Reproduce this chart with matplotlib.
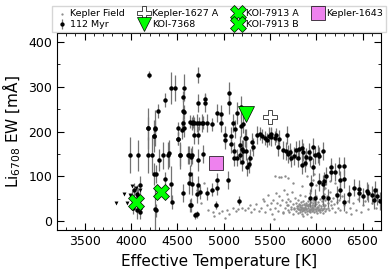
import matplotlib
matplotlib.use('Agg')
import matplotlib.pyplot as plt
from matplotlib.ticker import MultipleLocator

# Kepler field stars (gray dots)
field_teff = [4710, 4760, 4790, 4830, 4880, 4900, 4950, 4980, 5010, 5040, 5060, 5100, 5130, 5160,
              5200, 5230, 5260, 5280, 5300, 5330, 5350, 5380, 5400, 5420, 5440, 5450, 5470, 5480,
              5500, 5510, 5520, 5530, 5540, 5550, 5560, 5570, 5580, 5590, 5600, 5610, 5620, 5630,
              5640, 5650, 5660, 5670, 5680, 5690, 5700, 5700, 5710, 5720, 5730, 5740, 5750, 5750,
              5760, 5770, 5780, 5780, 5790, 5800, 5800, 5800, 5810, 5820, 5820, 5830, 5830, 5840,
              5840, 5850, 5850, 5850, 5860, 5860, 5870, 5870, 5880, 5880, 5880, 5890, 5890, 5900,
              5900, 5900, 5910, 5910, 5920, 5920, 5930, 5930, 5930, 5940, 5940, 5950, 5950, 5960,
              5960, 5970, 5970, 5980, 5980, 5990, 5990, 6000, 6000, 6000, 6010, 6020, 6020, 6030,
              6040, 6040, 6050, 6060, 6060, 6070, 6080, 6080, 6090, 6100, 6100, 6110, 6120, 6130,
              6140, 6150, 6160, 6170, 6180, 6190, 6200, 6210, 6220, 6230, 6250, 6260, 6280, 6300,
              6320, 6340, 6360, 6380, 6400, 6430, 6450, 6480, 6500, 6530, 6560, 6600, 6650, 6680,
              5900, 5960, 5980, 6050, 6000, 5850, 5750, 6100, 6200, 6150, 5600, 5660, 5700, 5880,
              5930, 6010, 5820, 5870, 5950, 6030, 5790, 5910, 6070, 5990, 5860, 5940,
              5815, 5835, 5855, 5875, 5895, 5915, 5935, 5955, 5975, 5995, 6015, 6035, 6055, 6075,
              5805, 5845, 5885, 5925, 5965, 6005, 6045, 6085, 6125, 6165, 5725, 5765, 5685, 5645]
field_ew = [70, 40, 85, 25, 20, 12, 18, 22, 8, 25, 15, 30, 22, 27,
            30, 25, 30, 35, 20, 28, 38, 22, 30, 50, 45, 20, 35, 58,
            27, 40, 15, 48, 5, 30, 100, 62, 40, 22, 55, 35, 99, 48,
            18, 70, 30, 42, 60, 25, 50, 35, 20, 45, 28, 65, 38, 15,
            30, 52, 22, 40, 33, 28, 48, 18, 38, 25, 58, 32, 20, 42,
            28, 35, 22, 15, 30, 45, 25, 38, 20, 32, 55, 28, 40, 22,
            35, 15, 30, 45, 25, 38, 20, 33, 62, 28, 42, 22, 35, 30,
            48, 25, 40, 20, 33, 45, 28, 38, 22, 55, 30, 42, 25, 35,
            50, 20, 30, 45, 25, 38, 60, 30, 22, 48, 35, 28, 55, 40,
            25, 65, 45, 30, 52, 38, 20, 60, 42, 30, 48, 25, 55, 35,
            20, 45, 30, 15, 40, 25, 50, 20, 35, 45, 28, 40, 30, 45,
            100, 92, 105, 88, 80, 78, 85, 75, 85, 90, 98, 100, 96, 30,
            27, 18, 35, 26, 31, 24, 29, 37, 19, 43, 12, 10,
            26, 31, 24, 36, 27, 33, 25, 30, 36, 26, 32, 28, 34, 27,
            34, 29, 37, 23, 27, 31, 24, 33, 29, 36, 32, 27, 37, 21]

# 112 Myr cluster members with lithium detections
clus_teff = [4199, 4436, 4479, 4571, 4372, 4294, 4564, 4564, 4564, 4724, 4724, 4798, 4638, 4660,
             4713, 4734, 4777, 4507, 4550, 4188, 4256, 4245, 4507, 4680, 4724,
             3990, 4071, 4188, 4188, 4230, 4248, 4263, 4305, 4348, 4245, 4270, 4365, 4405, 4436,
             4447, 4507, 4530, 4571, 4571, 4631, 4649, 4667, 4684, 4631, 4636, 4690, 4716, 4716,
             4030, 4060, 4080, 4100, 4100, 4060, 4100, 4020, 4010, 4259, 4265, 4400, 4525, 4560,
             4649, 4660, 4638, 4727, 4727, 4745, 4777, 4620, 4655,
             4798, 5057, 5057, 4933, 4975, 5145, 5192, 4763, 4820, 4870, 4968, 5103, 5124, 5183,
             5209, 5011, 5011, 5082, 5082, 5227, 5176, 5198, 5305, 5312, 5358, 5393, 5411, 5446,
             5488, 5516, 5551, 5567, 5600, 5688, 5110, 5110, 5140, 5176, 5245, 5280, 5198, 5276,
             5046, 4933, 4933, 4872, 4816, 4915, 5163, 5212, 5245, 5255,
             5465, 5510, 5590, 5640, 5670, 5713, 5731, 5777, 5819, 5850, 5862, 5847, 5890, 5926,
             5931, 5961, 5990, 6015, 6032, 6068, 5944, 6032, 6068, 6085, 6156, 6163, 6198, 6245,
             6298, 6262, 6262, 6298, 6228, 6405, 6458, 6458, 6546, 6564, 6600, 6635, 6653, 5933,
             5990, 6068, 6122, 6298, 5700, 5760, 5800, 5880, 5960, 6110, 6350, 6500, 6620, 6690]
clus_ew = [327, 297, 297, 298, 270, 246, 278, 246, 218, 327, 264, 272, 222, 218,
           218, 218, 220, 207, 204, 207, 207, 190, 184, 193, 193,
           147, 147, 207, 147, 147, 190, 206, 136, 147, 105, 105, 95, 151, 84,
           43, 184, 147, 207, 244, 147, 144, 222, 218, 85, 35, 13, 15, 60,
           70, 60, 55, 80, 30, 25, 20, 30, 52, 28, 24, 147, 147, 62,
           36, 84, 105, 136, 80, 64, 150, 147, 147,
           264, 285, 263, 241, 240, 241, 255, 218, 218, 216, 218, 218, 206, 213,
           216, 192, 180, 190, 172, 186, 171, 161, 177, 165, 192, 195, 190, 186,
           190, 195, 186, 192, 183, 192, 157, 142, 142, 147, 157, 140, 133, 128,
           92, 92, 73, 70, 62, 36, 45, 157, 186, 120,
           181, 188, 165, 158, 156, 155, 141, 159, 162, 163, 155, 125, 143, 155,
           141, 166, 148, 150, 145, 157, 84, 87, 84, 90, 110, 121, 110, 124,
           124, 91, 69, 94, 58, 75, 72, 63, 67, 62, 58, 69, 55, 51,
           51, 53, 51, 42, 150, 145, 140, 130, 120, 100, 60, 55, 48, 45]
clus_err = [8, 35, 30, 30, 15, 15, 12, 30, 15, 18, 20, 15, 15, 15,
            20, 15, 15, 15, 20, 45, 40, 20, 15, 20, 20,
            40, 35, 25, 40, 40, 35, 20, 25, 30, 25, 20, 15, 30, 40,
            15, 15, 25, 20, 15, 20, 20, 15, 15, 25, 15, 8, 8, 20,
            15, 20, 20, 20, 15, 20, 15, 15, 15, 50, 15, 30, 30, 20,
            15, 25, 20, 25, 20, 15, 20, 20, 20,
            20, 25, 25, 20, 20, 25, 25, 20, 20, 15, 20, 20, 20, 25,
            20, 20, 20, 20, 20, 20, 20, 20, 20, 20, 20, 15, 15, 15,
            20, 15, 15, 15, 20, 20, 20, 20, 20, 20, 20, 20, 20, 20,
            20, 15, 15, 15, 15, 10, 10, 25, 20, 20,
            15, 20, 20, 20, 20, 20, 20, 20, 20, 20, 20, 20, 20, 20,
            20, 20, 20, 20, 20, 20, 20, 20, 20, 20, 20, 20, 20, 20,
            20, 20, 20, 20, 20, 20, 20, 20, 20, 20, 20, 20, 20, 20,
            20, 20, 20, 20, 20, 20, 20, 20, 20, 20, 20, 20, 20, 20]

# 112 Myr upper limits
lim_teff = [3840, 3920, 3960, 4010, 4050, 3990, 4100, 4702]
lim_ew = [40, 60, 40, 78, 75, 58, 70, 13]

# individual planet hosts
k1627_teff, k1627_ew = [5500], [232]
koi7368_teff, koi7368_ew = [5241], [238]
koi7913a_teff, koi7913a_ew = [4324], [65]
koi7913b_teff, koi7913b_ew = [4050], [42]
k1643_teff, k1643_ew = [4916], [130]

fig, ax = plt.subplots(figsize=(3.9, 2.72), dpi=100)
fig.subplots_adjust(left=0.146, right=0.977, bottom=0.154, top=0.879)

h_field = ax.scatter(field_teff, field_ew, s=3, c='0.55', lw=0, label='Kepler Field', zorder=1)
h_clus = ax.errorbar(clus_teff, clus_ew, yerr=clus_err, fmt='o', color='black', ms=2.2,
                     ecolor='0.45', elinewidth=0.9, capsize=0, label='112 Myr', zorder=2)
ax.scatter(lim_teff, lim_ew, marker='v', s=8, c='black', lw=0, zorder=2)

h1, = ax.plot(k1627_teff, k1627_ew, 'P', ms=10, mfc='white', mec='black', mew=0.5,
              ls='none', label='Kepler-1627 A', zorder=5)
h2, = ax.plot(koi7368_teff, koi7368_ew, 'v', ms=11, mfc='lime', mec='black', mew=0.5,
              ls='none', label='KOI-7368', zorder=5)
h3, = ax.plot(koi7913a_teff, koi7913a_ew, 'X', ms=12, mfc='lime', mec='black', mew=0.5,
              ls='none', label='KOI-7913 A', zorder=5)
h4, = ax.plot(koi7913b_teff, koi7913b_ew, 'X', ms=12, mfc='lime', mec='black', mew=0.5,
              ls='none', label='KOI-7913 B', zorder=5)
h5, = ax.plot(k1643_teff, k1643_ew, 's', ms=10, mfc='violet', mec='black', mew=0.5,
              ls='none', label='Kepler-1643', zorder=5)

ax.set_xlim(3200, 6700)
ax.set_ylim(-20, 420)
ax.xaxis.set_major_locator(MultipleLocator(500))
ax.xaxis.set_minor_locator(MultipleLocator(100))
ax.yaxis.set_major_locator(MultipleLocator(100))
ax.yaxis.set_minor_locator(MultipleLocator(50))
ax.tick_params(which='both', direction='in', top=True, right=True, labelsize=9)
ax.tick_params(which='major', length=5)
ax.tick_params(which='minor', length=2.5)

ax.set_xlabel('Effective Temperature [K]', fontsize=11)
ax.set_ylabel('Li$_{6708}$ EW [mÅ]', fontsize=11)

handles = [h_field, h_clus, h1, h2, h3, h4, h5]
ax.legend(handles=handles, labels=[h.get_label() for h in handles],
          loc='lower center', bbox_to_anchor=(0.5, 1.0), borderaxespad=0.1, ncol=4,
          fontsize=6.8, handletextpad=0.1, columnspacing=1.3, labelspacing=0.2,
          borderpad=0.3, markerscale=0.95, fancybox=False, handlelength=1.5)

fig.savefig('out.png', dpi=100)
